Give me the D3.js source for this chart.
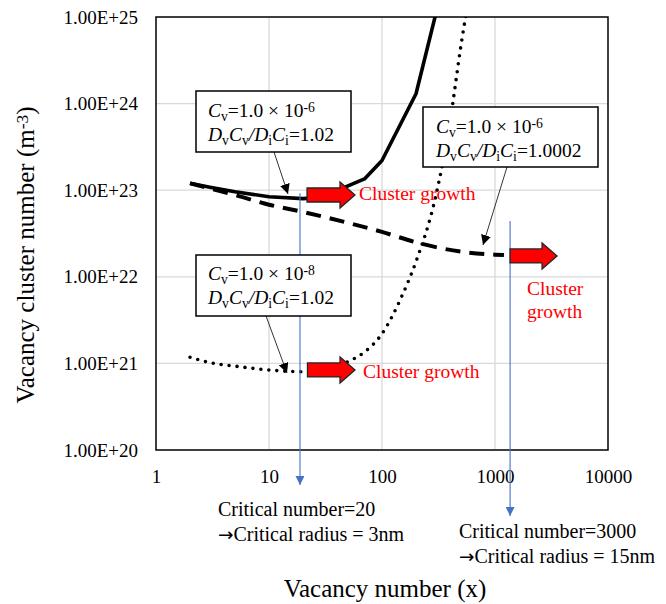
<!DOCTYPE html>
<html>
<head>
<meta charset="utf-8">
<title>Vacancy cluster number</title>
<script src="https://d3js.org/d3.v7.min.js"></script>
<style>
  body { margin: 0; background: #fff; }
  text { font-family: "Liberation Serif", "Times New Roman", serif; }
</style>
</head>
<body>
<div id="chart"></div>
<script>
// tick values and labels
var xTicks = [1, 10, 100, 1000, 10000];
var yTicks = [1e20, 1e21, 1e22, 1e23, 1e24, 1e25];
var yTickLabels = ["1.00E+20", "1.00E+21", "1.00E+22", "1.00E+23", "1.00E+24", "1.00E+25"];

// Cv=1e-6, DvCv/DiCi=1.02 (solid)
var solidX = [2, 3, 5, 10, 20, 30, 50, 70, 100, 200, 300];
var solidY = [1.2e23, 1.08e23, 9.6e22, 8.4e22, 8.0e22, 8.3e22, 1.12e23, 1.35e23, 2.2e23, 1.3e24, 1.1e25];

// Cv=1e-6, DvCv/DiCi=1.0002 (dashed)
var dashX = [2, 3, 5, 10, 20, 50, 100, 200, 500, 1000, 1200];
var dashY = [1.2e23, 1.05e23, 8.8e22, 6.8e22, 5.6e22, 4.2e22, 3.3e22, 2.5e22, 1.95e22, 1.8e22, 1.78e22];

// Cv=1e-8, DvCv/DiCi=1.02 (dotted)
var dotX = [2, 3, 5, 10, 20, 30, 50, 70, 100, 150, 200, 300, 400, 500, 600];
var dotY = [1.18e21, 1.02e21, 9.3e20, 8.4e20, 8.0e20, 8.3e20, 1.05e21, 1.35e21, 2.2e21, 6e21, 1.5e22, 8.7e22, 6.2e23, 4.7e24, 2e25];

// annotations (data units)
var critX = [18.8, 1360];           // blue lines
var critTop = [9.2e22, 4.4e22];
var critBottom = [485, 516];        // arrow tips, page px
var growthArrows = [
  { x0: 21.7, x1: 57.7, y: 8.8e22 },
  { x0: 21.9, x1: 57.7, y: 8.4e20 },
  { x0: 1360, x1: 3540, y: 1.74e22 }
];

var margin = { top: 17, right: 58, bottom: 154, left: 156 },
    width = 666 - margin.left - margin.right,
    height = 604 - margin.top - margin.bottom;

var svgRoot = d3.select("#chart").append("svg")
    .attr("width", 666).attr("height", 604);

var svg = svgRoot.append("g")
    .attr("transform", "translate(" + margin.left + "," + margin.top + ")");

var x = d3.scaleLog().domain([1, 10000]).range([0, width]);
var y = d3.scaleLog().domain([1e20, 1e25]).range([height, 0]);

// grid
svg.append("g").selectAll("line").data(yTicks.slice(1, -1)).enter().append("line")
    .attr("x1", 0).attr("x2", width)
    .attr("y1", function (d) { return y(d); }).attr("y2", function (d) { return y(d); })
    .attr("stroke", "#d9d9d9").attr("stroke-width", 1.3);
svg.append("g").selectAll("line").data(xTicks.slice(1, -1)).enter().append("line")
    .attr("y1", 0).attr("y2", height)
    .attr("x1", function (d) { return x(d); }).attr("x2", function (d) { return x(d); })
    .attr("stroke", "#d9d9d9").attr("stroke-width", 1.3);

// axes
var yAxis = svg.append("g")
    .call(d3.axisLeft(y).tickValues(yTicks).tickSize(0).tickPadding(18)
        .tickFormat(function (d, i) { return yTickLabels[i]; }));
yAxis.select(".domain").remove();
yAxis.selectAll("text").attr("font-size", 19).attr("fill", "#000")
    .style("font-family", "'Liberation Serif', serif");

var xAxis = svg.append("g")
    .attr("transform", "translate(0," + height + ")")
    .call(d3.axisBottom(x).tickValues(xTicks).tickSize(0).tickPadding(20)
        .tickFormat(d3.format("d")));
xAxis.select(".domain").remove();
xAxis.selectAll("text").attr("font-size", 19).attr("fill", "#000")
    .style("font-family", "'Liberation Serif', serif");

// clip for curves
svg.append("clipPath").attr("id", "plotclip")
    .append("rect").attr("width", width).attr("height", height);

function series(xs, ys) {
    return xs.map(function (v, i) { return [v, ys[i]]; });
}

var lineLin = d3.line().x(function (d) { return x(d[0]); }).y(function (d) { return y(d[1]); });
var lineSmooth = d3.line().curve(d3.curveMonotoneX)
    .x(function (d) { return x(d[0]); }).y(function (d) { return y(d[1]); });

var curves = svg.append("g").attr("clip-path", "url(#plotclip)");

curves.append("path").datum(series(dashX, dashY))
    .attr("fill", "none").attr("stroke", "#000").attr("stroke-width", 4)
    .attr("stroke-dasharray", "15 9").attr("d", lineSmooth);

curves.append("path").datum(series(dotX, dotY))
    .attr("fill", "none").attr("stroke", "#000").attr("stroke-width", 3.6)
    .attr("stroke-linecap", "round").attr("stroke-dasharray", "0 8").attr("d", lineSmooth);

curves.append("path").datum(series(solidX, solidY))
    .attr("fill", "none").attr("stroke", "#000").attr("stroke-width", 3.6)
    .attr("stroke-linejoin", "round").attr("d", lineLin);

// plot border
svg.append("rect").attr("width", width).attr("height", height)
    .attr("fill", "none").attr("stroke", "#000").attr("stroke-width", 1.5);

// arrowhead markers
var defs = svgRoot.append("defs");
defs.append("marker").attr("id", "blueHead")
    .attr("viewBox", "0 0 10 10").attr("refX", 10).attr("refY", 5)
    .attr("markerWidth", 9).attr("markerHeight", 9).attr("markerUnits", "userSpaceOnUse")
    .attr("orient", "auto")
    .append("path").attr("d", "M0,0L10,5L0,10Z").attr("fill", "#4472c4");
defs.append("marker").attr("id", "blackHead")
    .attr("viewBox", "0 0 10 10").attr("refX", 10).attr("refY", 5)
    .attr("markerWidth", 10).attr("markerHeight", 10).attr("markerUnits", "userSpaceOnUse")
    .attr("orient", "auto")
    .append("path").attr("d", "M0,0L10,5L0,10Z").attr("fill", "#000");

// blue critical lines
svg.selectAll(".crit").data(critX).enter().append("line")
    .attr("x1", function (d) { return x(d); }).attr("x2", function (d) { return x(d); })
    .attr("y1", function (d, i) { return y(critTop[i]); })
    .attr("y2", function (d, i) { return critBottom[i] - margin.top; })
    .attr("stroke", "#4472c4").attr("stroke-width", 1.1)
    .attr("marker-end", "url(#blueHead)");

// red growth arrows
function blockArrow(a) {
    var xa = x(a.x0), xb = x(a.x1), yc = y(a.y);
    var head = 15, bh = 7, hh = 13;
    return "M" + xa + "," + (yc - bh) + "L" + (xb - head) + "," + (yc - bh) +
        "L" + (xb - head) + "," + (yc - hh) + "L" + xb + "," + yc +
        "L" + (xb - head) + "," + (yc + hh) + "L" + (xb - head) + "," + (yc + bh) +
        "L" + xa + "," + (yc + bh) + "Z";
}
svg.selectAll(".grow").data(growthArrows).enter().append("path")
    .attr("d", blockArrow).attr("fill", "#ff0000")
    .attr("stroke", "#262626").attr("stroke-width", 1.3).attr("stroke-linejoin", "miter");

// red labels
var redLabels = [
    { t: "Cluster growth", px: 359, py: 200 },
    { t: "Cluster growth", px: 363, py: 378 },
    { t: "Cluster", px: 527, py: 295 },
    { t: "growth", px: 527, py: 318 }
];
svgRoot.selectAll(".red").data(redLabels).enter().append("text")
    .attr("x", function (d) { return d.px; }).attr("y", function (d) { return d.py; })
    .attr("font-size", 19.5).attr("fill", "#ff0000").text(function (d) { return d.t; });

// rich text helper
function addRich(sel, parts) {
    parts.forEach(function (p) {
        var ts = sel.append("tspan").text(p.t);
        if (p.i) ts.attr("font-style", "italic");
        if (p.sub) ts.attr("baseline-shift", "-25%").attr("font-size", "70%");
        if (p.sup) ts.attr("baseline-shift", "35%").attr("font-size", "70%");
        if (p.sym) ts.style("font-family", "'DejaVu Sans', sans-serif").attr("font-size", "92%");
    });
}

// boxed annotations
var line1a = [{ t: "C", i: 1 }, { t: "v", sub: 1 }, { t: "=1.0 × 10" }, { t: "-6", sup: 1 }];
var line1b = [{ t: "C", i: 1 }, { t: "v", sub: 1 }, { t: "=1.0 × 10" }, { t: "-8", sup: 1 }];
function line2(val) {
    return [{ t: "D", i: 1 }, { t: "v", sub: 1 }, { t: "C", i: 1 }, { t: "v", sub: 1 },
        { t: "/D", i: 1 }, { t: "i", sub: 1 }, { t: "C", i: 1 }, { t: "i", sub: 1 }, { t: "=" + val }];
}
var boxes = [
    { bx: 196, by: 91, bw: 155, bh: 61, l1: line1a, l2: line2("1.02"), tx: 208, b1: 117, b2: 141,
      from: [274, 152], to: [288, 194] },
    { bx: 423, by: 107, bw: 175, bh: 60, l1: line1a, l2: line2("1.0002"), tx: 436, b1: 133, b2: 157,
      from: [507, 167], to: [483, 245] },
    { bx: 196, by: 255, bw: 155, bh: 61, l1: line1b, l2: line2("1.02"), tx: 208, b1: 280, b2: 304,
      from: [266, 316], to: [287, 373] }
];
boxes.forEach(function (b) {
    svgRoot.append("line")
        .attr("x1", b.from[0]).attr("y1", b.from[1]).attr("x2", b.to[0]).attr("y2", b.to[1])
        .attr("stroke", "#000").attr("stroke-width", 0.8).attr("marker-end", "url(#blackHead)");
    svgRoot.append("rect").attr("x", b.bx).attr("y", b.by).attr("width", b.bw).attr("height", b.bh)
        .attr("fill", "#fff").attr("stroke", "#000").attr("stroke-width", 1.5);
    addRich(svgRoot.append("text").attr("x", b.tx).attr("y", b.b1).attr("font-size", 19.5), b.l1);
    addRich(svgRoot.append("text").attr("x", b.tx).attr("y", b.b2).attr("font-size", 19.5), b.l2);
});

// critical number texts
var critText = [
    { parts: [{ t: "Critical number=20" }], px: 218, py: 516 },
    { parts: [{ t: "→", sym: 1 }, { t: "Critical radius = 3nm" }], px: 218, py: 541 },
    { parts: [{ t: "Critical number=3000" }], px: 459, py: 538 },
    { parts: [{ t: "→", sym: 1 }, { t: "Critical radius = 15nm" }], px: 459, py: 563 }
];
critText.forEach(function (c) {
    addRich(svgRoot.append("text").attr("x", c.px).attr("y", c.py)
        .attr("font-size", 20).attr("fill", "#000"), c.parts);
});

// axis titles
svgRoot.append("text").attr("x", 385).attr("y", 597).attr("text-anchor", "middle")
    .attr("font-size", 25).text("Vacancy number (x)");
var yt = svgRoot.append("text").attr("transform", "translate(34,255) rotate(-90)")
    .attr("text-anchor", "middle").attr("font-size", 25);
addRich(yt, [{ t: "Vacancy cluster number (m" }, { t: "-3", sup: 1 }, { t: ")" }]);
</script>
</body>
</html>
